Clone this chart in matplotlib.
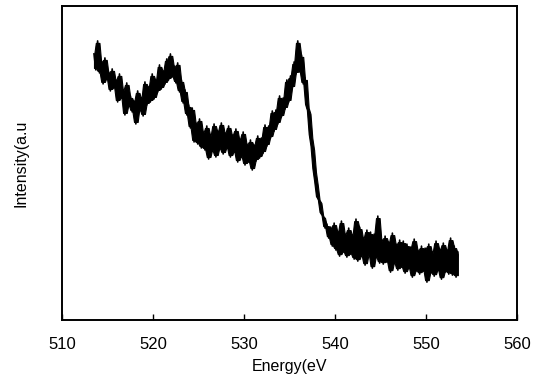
import numpy as np
import matplotlib
matplotlib.use("Agg")
import matplotlib.pyplot as plt

# intensity, 0.2 eV steps from 513.5 to 553.5 eV
intensity = [
    266, 250, 279, 247, 259, 236, 262, 241, 248, 229,
    251, 232, 240, 218, 246, 222, 230, 205, 237, 214,
    224, 208, 219, 196, 229, 210, 222, 204, 238, 215,
    233, 218, 246, 221, 240, 228, 255, 231, 249, 236,
    261, 240, 266, 243, 254, 237, 257, 228, 240, 217,
    230, 205, 215, 192, 212, 178, 197, 176, 201, 172,
    188, 170, 194, 161, 185, 169, 196, 163, 189, 171,
    197, 166, 187, 172, 194, 163, 185, 168, 191, 158,
    181, 163, 188, 155, 176, 158, 180, 150, 175, 159,
    184, 162, 182, 167, 195, 174, 194, 182, 209, 189,
    210, 196, 224, 203, 222, 211, 240, 218, 244, 232,
    258, 246, 279, 248, 265, 236, 242, 214, 208, 184,
    172, 150, 137, 122, 119, 106, 104, 92, 96, 82,
    93, 74, 97, 70, 88, 64, 99, 68, 86, 63,
    92, 66, 85, 61, 101, 59, 93, 64, 82, 55,
    90, 65, 88, 52, 86, 63, 104, 57, 81, 56,
    84, 58, 78, 48, 87, 57, 76, 50, 80, 53,
    79, 47, 76, 52, 73, 43, 81, 49, 70, 46,
    74, 49, 72, 38, 76, 47, 68, 44, 79, 50,
    71, 41, 77, 48, 70, 46, 82, 45, 74, 43,
    68,
]
energy = np.linspace(513.5, 553.5, len(intensity))

x_ticks = [510, 520, 530, 540, 550, 560]

# band between neighbouring highs and lows so the trace reads as a solid smear
y = np.array(intensity, dtype=float)
padded = np.pad(y, 1, mode='edge')
upper = np.max([padded[:-2], padded[1:-1], padded[2:]], axis=0)
lower = np.min([padded[:-2], padded[1:-1], padded[2:]], axis=0)
mid = (upper + lower) / 2
upper = np.maximum(upper - 2, mid)
lower = np.minimum(lower + 2, mid)

plt.rcParams['font.family'] = ['Liberation Sans', 'DejaVu Sans']

fig = plt.figure(figsize=(5.5, 3.9), dpi=100)
ax = fig.add_axes([0.113, 0.179, 0.827, 0.806])

ax.fill_between(energy, lower, upper, color='black', linewidth=0.8,
                edgecolor='black')
ax.plot(energy, intensity, color='black', linewidth=1.2)

ax.set_xlim(510, 560)
ax.set_ylim(0, 314)
ax.set_xticks(x_ticks)
ax.set_yticks([])
ax.tick_params(axis='x', direction='in', length=4, width=1, labelsize=12, pad=12)
for s in ax.spines.values():
    s.set_linewidth(1.4)

ax.set_xlabel('Energy(eV', fontsize=11.5, labelpad=5)
ax.set_ylabel('Intensity(a.u', fontsize=11.5, labelpad=24)

fig.savefig('out.png', dpi=100)
